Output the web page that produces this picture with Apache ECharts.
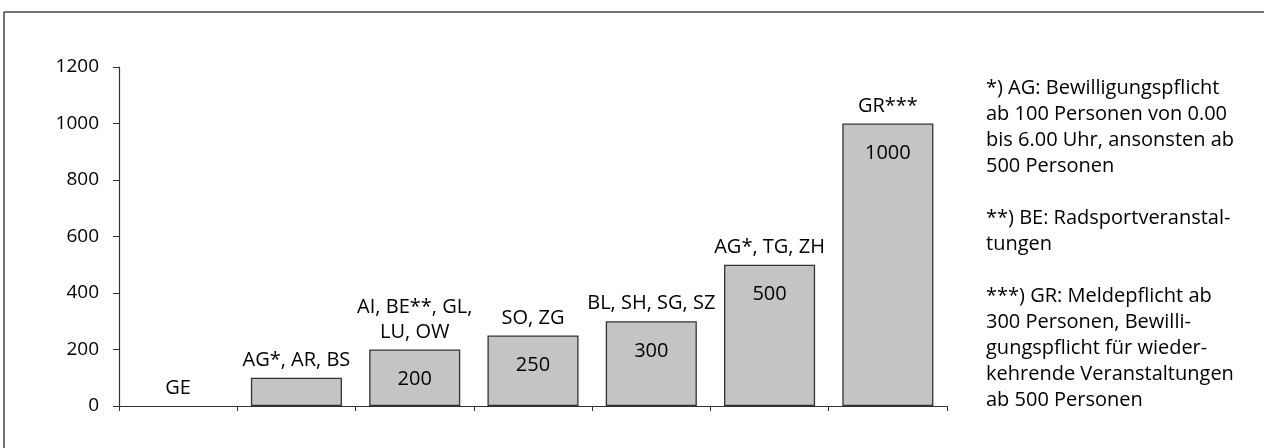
<!DOCTYPE html>
<html>
<head>
<meta charset="utf-8">
<script src="https://cdn.jsdelivr.net/npm/echarts@6/dist/echarts.min.js"></script>
<style>
html,body{margin:0;padding:0;background:#fff;}
#chart{width:1264px;height:448px;}
</style>
</head>
<body>
<div id="chart"></div>
<script>
const categories = ['GE', 'AG*, AR, BS', 'AI, BE**, GL,\nLU, OW', 'SO, ZG', 'BL, SH, SG, SZ', 'AG*, TG, ZH', 'GR***'];
const values = [0, 100, 200, 250, 300, 500, 1000];
const valueLabels = ['', '', '200', '250', '300', '500', '1000'];
const yTicks = [0, 200, 400, 600, 800, 1000, 1200];
const notes = [
  '*) AG: Bewilligungspflicht',
  'ab 100 Personen von 0.00',
  'bis 6.00 Uhr, ansonsten ab',
  '500 Personen',
  '',
  '**) BE: Radsportveranstal-',
  'tungen',
  '',
  '***) GR: Meldepflicht ab',
  '300 Personen, Bewilli-',
  'gungspflicht für wieder-',
  'kehrende Veranstaltungen',
  'ab 500 Personen'
];

const FONT = '"Open Sans", "Noto Sans", sans-serif';
const TXT = '#000';
const barData = values.map(v => v === 0 ? {value: v, itemStyle: {borderWidth: 0}} : v);
const chart = echarts.init(document.getElementById('chart'), null, {renderer: 'canvas'});
chart.setOption({
  animation: false,
  backgroundColor: '#fff',
  textStyle: {fontFamily: FONT},
  grid: {left: 119, right: 317, top: 67, bottom: 42, containLabel: false},
  xAxis: {
    type: 'category',
    data: categories,
    boundaryGap: true,
    axisLine: {show: true, lineStyle: {color: '#333', width: 1.2}},
    axisTick: {show: true, alignWithLabel: false, length: 5, lineStyle: {color: '#333'}},
    axisLabel: {show: false},
    splitLine: {show: false}
  },
  yAxis: {
    type: 'value',
    min: yTicks[0],
    max: yTicks[yTicks.length - 1],
    interval: 200,
    axisLine: {show: true, lineStyle: {color: '#333', width: 1.2}},
    axisTick: {show: true, inside: false, length: 6, lineStyle: {color: '#333'}},
    axisLabel: {color: TXT, fontSize: 19, fontFamily: FONT, margin: 20, formatter: v => String(v)},
    splitLine: {show: false}
  },
  series: [
    {
      type: 'bar',
      data: barData,
      barCategoryGap: '23%',
      itemStyle: {color: '#c4c4c4', borderColor: '#333', borderWidth: 1.3},
      label: {
        show: true,
        position: 'top',
        distance: 5,
        color: TXT,
        fontSize: 20,
        fontFamily: FONT,
        lineHeight: 25,
        align: 'center',
        formatter: p => categories[p.dataIndex]
      }
    },
    {
      type: 'bar',
      data: values,
      barGap: '-100%',
      barCategoryGap: '23%',
      silent: true,
      itemStyle: {color: 'rgba(0,0,0,0)'},
      label: {
        show: true,
        position: 'insideTop',
        distance: 20,
        color: TXT,
        fontSize: 20,
        fontFamily: FONT,
        formatter: p => valueLabels[p.dataIndex]
      }
    }
  ],
  graphic: [
    {type: 'line', shape: {x1: 4, y1: 12, x2: 1264, y2: 12}, style: {stroke: '#444', lineWidth: 1.5}},
    {type: 'line', shape: {x1: 4, y1: 12, x2: 4, y2: 448}, style: {stroke: '#444', lineWidth: 1.5}},
    {
      type: 'text',
      left: 986,
      top: 75,
      style: {
        text: notes.join('\n'),
        fill: TXT,
        fontSize: 20,
        fontFamily: FONT,
        lineHeight: 26
      }
    }
  ]
});
</script>
</body>
</html>
